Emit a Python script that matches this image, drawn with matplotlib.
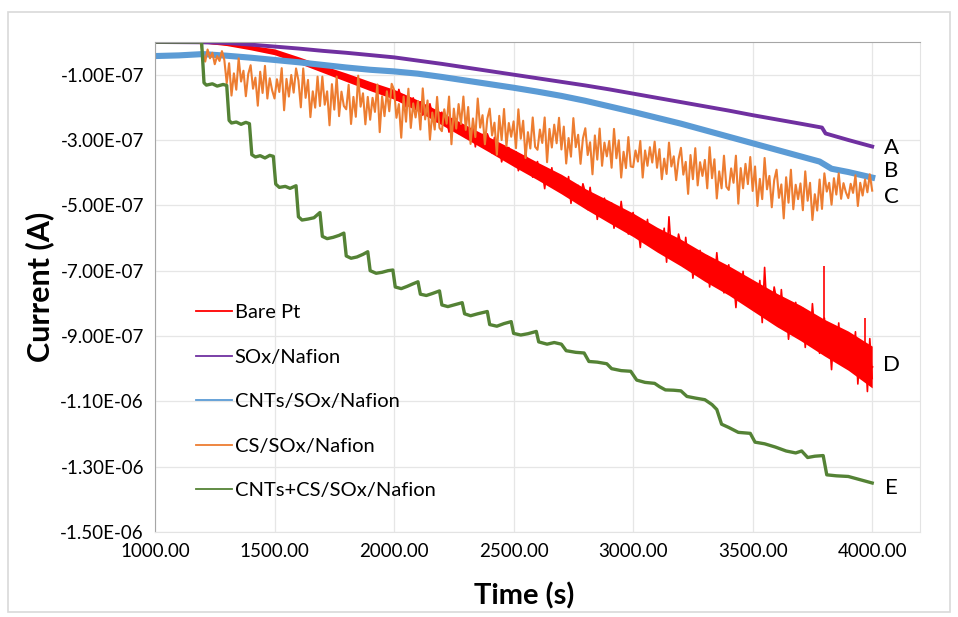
import numpy as np
import matplotlib
matplotlib.use("Agg")
import matplotlib.pyplot as plt
from matplotlib.lines import Line2D
from matplotlib.patches import Rectangle
from matplotlib.ticker import FuncFormatter

plt.rcParams['font.family'] = ['Lato', 'DejaVu Sans']

SCALE = 1e-7  # values below are in units of 1e-7 A

# SOx/Nafion (A)
purple_t = [1000, 1200, 1300, 1400, 1500, 1600, 1700, 1800, 1900, 2000, 2100, 2200,
            2300, 2400, 2500, 2600, 2700, 2800, 2900, 3000, 3100, 3200, 3300, 3400,
            3500, 3600, 3700, 3790, 3805, 3900, 4000]
purple_i = [0, -0.01, -0.03, -0.08, -0.14, -0.20, -0.27, -0.33, -0.40, -0.47, -0.57, -0.67,
            -0.78, -0.89, -1.00, -1.11, -1.22, -1.33, -1.45, -1.58, -1.71, -1.84, -1.97, -2.10,
            -2.24, -2.37, -2.50, -2.62, -2.80, -3.00, -3.20]

# CNTs/SOx/Nafion (B)
blue_t = [1000, 1100, 1200, 1300, 1400, 1500, 1600, 1700, 1800, 1900, 2000, 2100, 2200,
          2300, 2400, 2500, 2600, 2700, 2800, 2900, 3000, 3100, 3200, 3300, 3400, 3500,
          3600, 3700, 3780, 3830, 3900, 4000]
blue_i = [-0.43, -0.41, -0.37, -0.42, -0.48, -0.55, -0.62, -0.70, -0.78, -0.85, -0.90, -0.97,
          -1.07, -1.18, -1.29, -1.40, -1.52, -1.65, -1.80, -1.97, -2.14, -2.32, -2.50, -2.70,
          -2.90, -3.10, -3.30, -3.50, -3.66, -3.88, -3.98, -4.15]

# CS/SOx/Nafion (C): 0 until 1190 s, then read every 10 s from 1200 s
orange_t = np.concatenate(([1000, 1190], np.arange(1200, 4001, 10)))
orange_i = [0, 0,
            -0.35, -0.60, -0.23, -0.50, -0.33, -0.68, -0.43, -0.58, -0.28, -0.55,   # 1200
            -1.26, -0.65, -1.64, -0.96, -1.46, -0.50, -1.21, -0.88, -1.66, -0.98,   # 1300
            -0.71, -1.43, -1.09, -1.95, -0.91, -1.56, -0.73, -1.73, -1.11, -1.48,   # 1400
            -1.73, -1.14, -1.53, -0.80, -2.09, -1.13, -1.67, -1.01, -1.55, -0.81,   # 1500
            -1.18, -2.00, -0.81, -1.71, -1.16, -2.30, -1.51, -2.01, -1.06, -1.96,   # 1600
            -1.06, -1.92, -1.51, -2.55, -1.29, -2.07, -1.06, -2.27, -1.52, -1.96,   # 1700
            -2.06, -1.31, -2.51, -1.68, -2.29, -1.03, -1.98, -1.57, -2.52, -1.68,   # 1800
            -2.38, -1.71, -2.14, -1.30, -2.76, -1.66, -2.27, -1.51, -2.12, -1.28,   # 1900
            -1.46, -2.32, -1.90, -2.93, -1.67, -2.44, -1.43, -2.63, -1.88, -2.31,   # 2000
            -1.81, -2.68, -1.42, -2.37, -1.79, -2.99, -2.16, -2.68, -1.68, -2.63,   # 2100
            -2.73, -2.06, -2.50, -1.67, -3.13, -2.04, -2.65, -1.90, -2.51, -1.67,   # 2200
            -2.69, -1.99, -3.12, -2.34, -2.91, -1.73, -2.62, -2.24, -3.13, -2.35,   # 2300
            -2.04, -2.86, -2.47, -3.45, -2.26, -3.00, -2.05, -3.19, -2.48, -2.90,   # 2400
            -2.43, -3.25, -2.06, -2.96, -2.41, -3.55, -2.76, -3.26, -2.31, -3.21,   # 2500
            -3.30, -2.68, -3.09, -2.31, -3.68, -2.66, -3.23, -2.53, -3.10, -2.32,   # 2600
            -3.29, -2.59, -3.72, -2.94, -3.51, -2.33, -3.22, -2.84, -3.73, -2.95,   # 2700
            -2.64, -3.46, -3.07, -4.05, -2.86, -3.60, -2.65, -3.79, -3.08, -3.50,   # 2800
            -3.03, -3.85, -2.66, -3.56, -3.01, -4.15, -3.36, -3.86, -2.91, -3.81,   # 2900
            -3.83, -3.32, -3.66, -3.03, -4.15, -3.32, -3.79, -3.22, -3.69, -3.05,   # 3000
            -3.85, -3.28, -4.20, -3.57, -4.04, -3.08, -3.81, -3.50, -4.23, -3.59,   # 3100
            -3.24, -4.06, -3.67, -4.65, -3.46, -4.20, -3.25, -4.39, -3.68, -4.10,   # 3200
            -3.61, -4.48, -3.22, -4.17, -3.59, -4.79, -3.96, -4.48, -3.48, -4.43,   # 3300
            -4.53, -3.87, -4.31, -3.48, -4.95, -3.86, -4.48, -3.73, -4.35, -3.52,   # 3400
            -4.56, -3.81, -5.02, -4.19, -4.81, -3.55, -4.51, -4.10, -5.06, -4.23,   # 3500
            -3.91, -4.77, -4.36, -5.40, -4.14, -4.92, -3.91, -5.12, -4.37, -4.81,   # 3600
            -4.33, -5.15, -3.96, -4.86, -4.31, -5.45, -4.66, -5.16, -4.21, -5.11,   # 3700
            -4.02, -4.58, -4.31, -4.98, -4.17, -4.67, -4.02, -4.80, -4.32, -4.60,   # 3800
            -4.78, -4.34, -4.62, -4.08, -5.02, -4.31, -4.70, -4.21, -4.60, -4.05,   # 3900
            -4.55]

# Bare Pt (D): dense band centre and core half width every 100 s
red_t = [1000, 1100, 1200, 1300, 1400, 1500, 1600, 1700, 1800, 1900, 2000, 2100, 2200,
         2300, 2400, 2500, 2600, 2700, 2800, 2900, 3000, 3100, 3200, 3300, 3400, 3500,
         3600, 3700, 3800, 3900, 4000]
red_mid = [0, 0, -0.01, -0.07, -0.17, -0.30, -0.55, -0.82, -1.08, -1.35, -1.60, -1.95, -2.35,
           -2.75, -3.15, -3.55, -3.95, -4.35, -4.80, -5.20, -5.60, -6.05, -6.45, -6.90, -7.30,
           -7.75, -8.20, -8.60, -9.05, -9.45, -9.95]
red_half = [0.02, 0.02, 0.02, 0.04, 0.07, 0.09, 0.10, 0.11, 0.13, 0.14, 0.15, 0.17, 0.19,
            0.21, 0.23, 0.26, 0.27, 0.30, 0.31, 0.34, 0.36, 0.38, 0.41, 0.43, 0.45, 0.48,
            0.51, 0.54, 0.56, 0.60, 0.64]
# Bare Pt noisy trace, read every 10 s from 2000 s
red_noise_t = np.arange(2000, 4001, 10)
red_noise = [-1.50, -1.78, -1.45, -1.75, -1.62, -1.99, -1.79, -1.97, -1.71, -2.01,   # 2000
             -2.03, -1.83, -2.24, -2.02, -2.24, -1.89, -2.22, -2.13, -2.45, -2.23,   # 2100
             -2.15, -2.48, -2.37, -2.76, -2.37, -2.67, -2.36, -2.80, -2.58, -2.77,   # 2200
             -2.92, -2.69, -2.90, -2.61, -3.21, -2.82, -3.09, -2.83, -3.10, -2.81,   # 2300
             -3.01, -3.40, -2.92, -3.34, -3.14, -3.67, -3.36, -3.61, -3.23, -3.65,   # 2400
             -3.67, -3.36, -3.94, -3.59, -3.91, -3.36, -3.83, -3.67, -4.14, -3.79,   # 2500
             -3.66, -4.12, -3.95, -4.49, -3.90, -4.32, -3.85, -4.48, -4.14, -4.39,   # 2600
             -4.58, -4.26, -4.53, -4.12, -4.94, -4.39, -4.76, -4.39, -4.76, -4.34,   # 2700
             -4.61, -5.13, -4.45, -5.02, -4.72, -5.43, -4.99, -5.32, -4.78, -5.35,   # 2800
             -5.36, -4.93, -5.70, -5.22, -5.62, -4.88, -5.49, -5.27, -5.88, -5.40,   # 2900
             -5.22, -5.81, -5.58, -6.29, -5.51, -6.05, -5.43, -6.25, -5.80, -6.12,   # 3000
             -6.35, -5.91, -6.25, -5.70, -6.74, -5.35, -6.47, -5.98, -6.43, -5.88,   # 3100
             -6.20, -6.87, -5.98, -6.71, -6.32, -7.23, -6.66, -7.08, -6.38, -7.10,   # 3200
             -7.10, -6.55, -7.50, -6.89, -7.39, -6.45, -7.21, -6.92, -7.68, -7.07,   # 3300
             -6.82, -7.55, -7.25, -8.13, -7.14, -7.80, -7.02, -8.03, -7.45, -7.84,   # 3400
             -8.12, -7.58, -7.99, -7.30, -8.59, -6.90, -8.24, -7.63, -8.18, -7.50,   # 3500
             -7.89, -8.71, -7.58, -8.48, -7.97, -9.10, -8.36, -8.87, -7.97, -8.87,   # 3600
             -8.85, -8.15, -9.35, -8.57, -9.19, -8.01, -8.95, -8.59, -9.53, -8.76,   # 3700
             -8.45, -9.35, -8.96, -10.03, -8.78, -9.59, -8.60, -9.85, -9.11, -9.58,  # 3800
             -9.91, -9.23, -9.73, -8.87, -10.47, -9.34, -10.02, -9.25, -10.70, -9.08,  # 3900
             -10.30]
red_spike_t = [3800, 3972]
red_spike_lo = [-9.05, -9.80]
red_spike_hi = [-6.86, -8.45]

# CNTs+CS/SOx/Nafion (E)
green_t = [1000, 1195, 1205, 1215, 1240, 1260, 1285, 1300, 1310, 1320, 1340, 1360, 1380, 1395,
           1405, 1420, 1440, 1460, 1480, 1495, 1505, 1520, 1545, 1565, 1590, 1600, 1615, 1640,
           1665, 1690, 1700, 1720, 1745, 1770, 1790, 1800, 1820, 1845, 1870, 1890, 1900, 1925,
           1950, 1975, 1995, 2005, 2030, 2055, 2080, 2100, 2110, 2135, 2160, 2190, 2200, 2225,
           2255, 2285, 2295, 2320, 2350, 2390, 2400, 2430, 2460, 2490, 2500, 2530, 2560, 2595,
           2605, 2640, 2670, 2700, 2720, 2760, 2795, 2815, 2850, 2890, 2910, 2950, 2990, 3015,
           3050, 3090, 3110, 3135, 3170, 3200, 3225, 3260, 3300, 3330, 3350, 3370, 3400, 3440,
           3490, 3510, 3550, 3595, 3640, 3680, 3705, 3730, 3760, 3795, 3810, 3850, 3900, 3950,
           4000]
green_i = [0, 0, -1.25, -1.32, -1.28, -1.35, -1.30, -1.33, -2.40, -2.48, -2.45, -2.52, -2.46, -2.50,
           -3.45, -3.52, -3.48, -3.55, -3.47, -3.50, -4.35, -4.45, -4.42, -4.48, -4.40, -5.35, -5.45, -5.42,
           -5.38, -5.22, -5.95, -6.02, -5.98, -5.92, -5.85, -6.55, -6.62, -6.58, -6.50, -6.42, -7.00, -7.08,
           -7.05, -7.00, -6.98, -7.50, -7.55, -7.48, -7.40, -7.34, -7.72, -7.76, -7.70, -7.62, -8.05, -8.10,
           -8.04, -7.98, -8.32, -8.38, -8.32, -8.25, -8.65, -8.70, -8.62, -8.56, -8.92, -8.97, -8.93, -8.86,
           -9.18, -9.25, -9.20, -9.25, -9.45, -9.50, -9.52, -9.78, -9.80, -9.85, -10.00, -10.06, -10.08, -10.35,
           -10.42, -10.45, -10.55, -10.65, -10.66, -10.68, -10.85, -10.90, -10.95, -11.10, -11.25, -11.70, -11.80, -11.95,
           -11.98, -12.25, -12.30, -12.40, -12.52, -12.58, -12.52, -12.72, -12.68, -12.66, -13.25, -13.28, -13.30, -13.40,
           -13.50]

labels = ['Bare Pt', 'SOx/Nafion', 'CNTs/SOx/Nafion', 'CS/SOx/Nafion', 'CNTs+CS/SOx/Nafion']
colors = ['#FF0000', '#7030A0', '#5B9BD5', '#ED7D31', '#548235']
end_letters = ['A', 'B', 'C', 'D', 'E']
end_letter_i = [-3.24, -3.95, -4.75, -9.89, -13.65]


def sci(v, pos):
    return f"{v:.2E}"


fig = plt.figure(figsize=(9.58, 6.17), dpi=100)
ax = fig.add_axes([155 / 958, 1 - 532 / 617, 765 / 958, 490 / 617])

# outer chart border
fig.patches.append(Rectangle((8 / 958, 5 / 617), 942 / 958, 600 / 617, transform=fig.transFigure,
                             fill=False, edgecolor='#D9D9D9', linewidth=1.2))

s = SCALE
# Bare Pt
red_mid_a = np.array(red_mid) * s
red_half_a = np.array(red_half) * s
ax.fill_between(red_t, red_mid_a - red_half_a, red_mid_a + red_half_a, color=colors[0], lw=0)
ax.plot(red_t, red_mid_a, color=colors[0], lw=1.6)
ax.plot(red_noise_t, np.array(red_noise) * s, color=colors[0], lw=1.2)
ax.vlines(red_spike_t, np.array(red_spike_lo) * s, np.array(red_spike_hi) * s, color=colors[0], lw=1.2)

# SOx/Nafion
ax.plot(purple_t, np.array(purple_i) * s, color=colors[1], lw=2.8)
# CNTs/SOx/Nafion
ax.plot(blue_t, np.array(blue_i) * s, color=colors[2], lw=4.4)
# CS/SOx/Nafion
ax.plot(orange_t, np.array(orange_i) * s, color=colors[3], lw=1.5)
# CNTs+CS/SOx/Nafion
ax.plot(green_t, np.array(green_i) * s, color=colors[4], lw=2.4)

for letter, val in zip(end_letters, end_letter_i):
    ax.text(4079, val * s, letter, ha='center', va='center', fontsize=16)

ax.set_xlim(1000, 4200)
ax.set_ylim(-1.5e-6, 0)
ax.set_xticks(np.arange(1000, 4001, 500))
ax.set_yticks(np.arange(-1.5e-6, -0.5e-7, 2e-7))
ax.xaxis.set_major_formatter(FuncFormatter(lambda v, p: f"{v:.2f}"))
ax.yaxis.set_major_formatter(FuncFormatter(sci))
ax.tick_params(length=0, labelsize=13.5, pad=8)
ax.grid(True, color='#E6E6E6', lw=0.9)
ax.set_axisbelow(True)
for side in ['top', 'left']:
    ax.spines[side].set_color('#A6A6A6')
for side in ['bottom', 'right']:
    ax.spines[side].set_color('#E3E3E3')

handles = [Line2D([0], [0], color=c, lw=1.3) for c in colors]
ax.legend(handles, labels, loc='upper left', bbox_to_anchor=(0.030, 0.502), frameon=False,
          fontsize=14.5, handlelength=1.8, handletextpad=0.12, labelspacing=1.36)

fig.text(40 / 958, 1 - 287 / 617, 'Current (A)', rotation=90, ha='center', va='center',
         fontsize=22, fontweight='bold')
fig.text(524 / 958, 1 - 596 / 617, 'Time (s)', ha='center', va='center',
         fontsize=21, fontweight='bold')

fig.savefig('out.png', dpi=100)
